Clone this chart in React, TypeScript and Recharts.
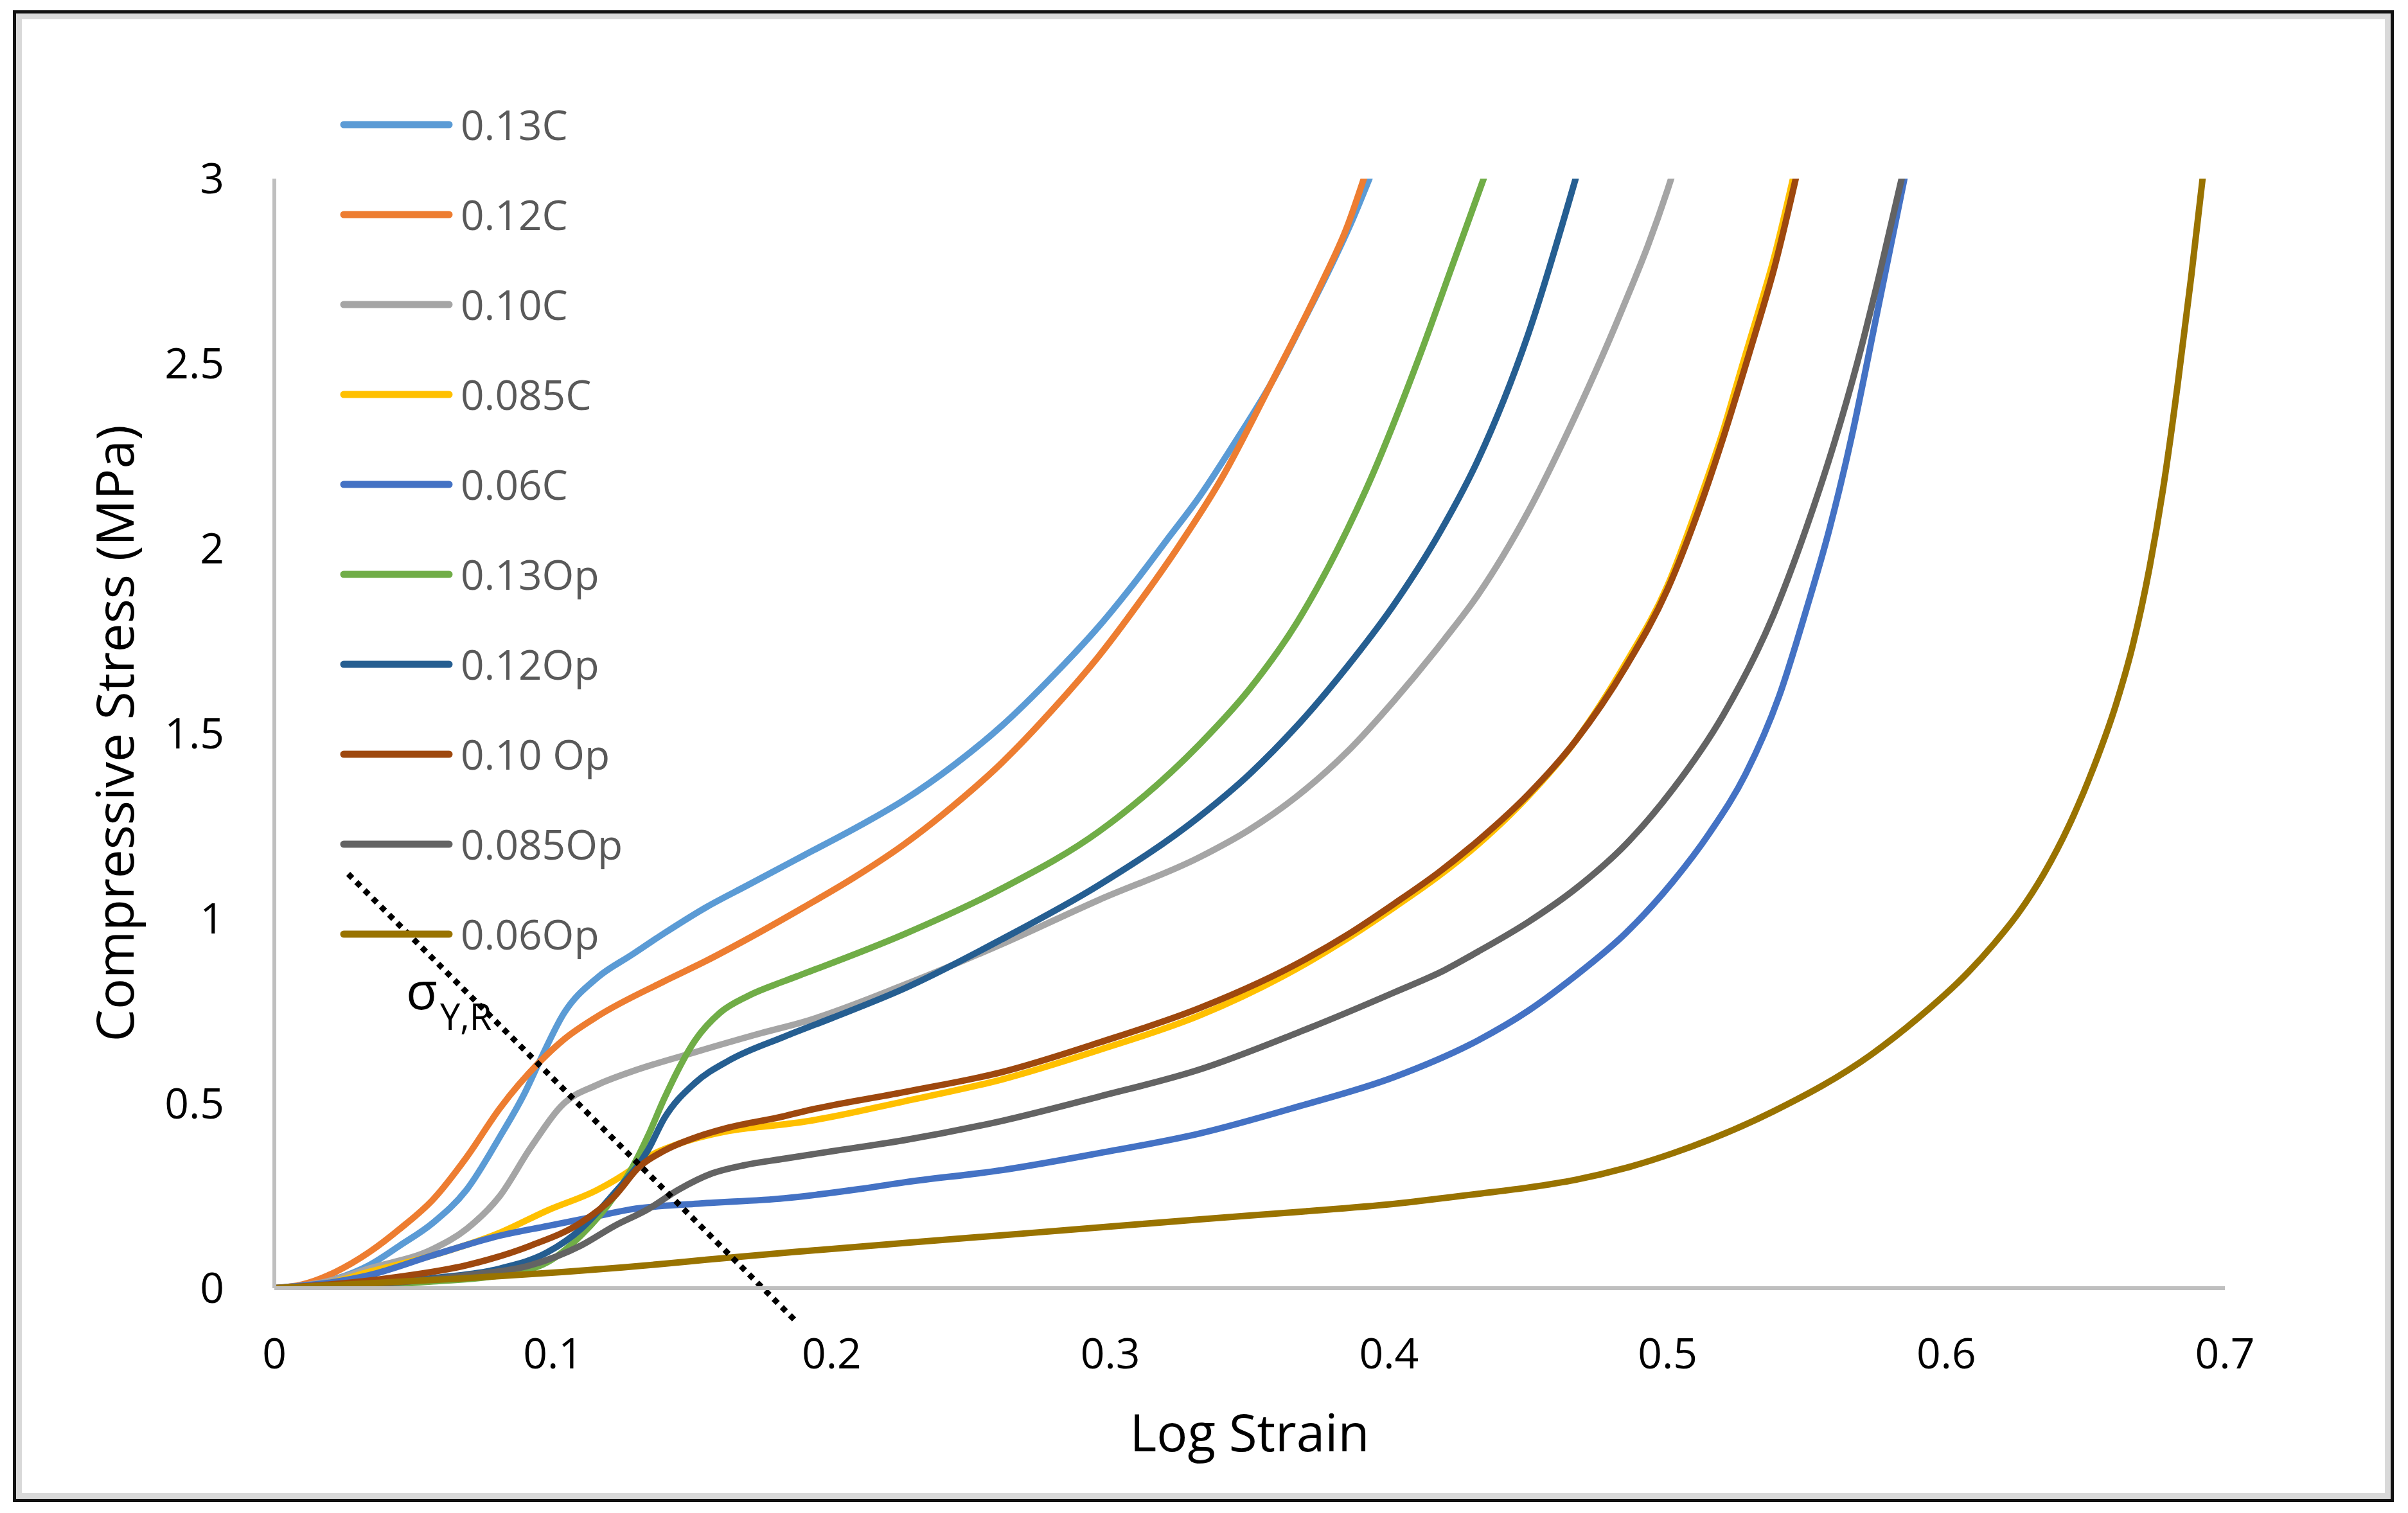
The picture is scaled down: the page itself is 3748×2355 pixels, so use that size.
import React from 'react';
import { LineChart, Line, XAxis, YAxis, ReferenceLine, Legend, Label } from 'recharts';

document.body.style.margin = '0';

const FONT = '"Open Sans", "DejaVu Sans", sans-serif';
const W = 3748;
const H = 2355;

const SERIES_NAMES = ['0.13C', '0.12C', '0.10C', '0.085C', '0.06C', '0.13Op', '0.12Op', '0.10 Op', '0.085Op', '0.06Op'];
const SERIES_COLORS = ['#5B9BD5', '#ED7D31', '#A5A5A5', '#FFC000', '#4472C4', '#70AD47', '#255E91', '#9E480E', '#636363', '#997300'];

// [log strain, stress MPa]
const c013: [number, number][] = [
  [0, 0], [0.01, 0.005], [0.022, 0.025], [0.034, 0.062], [0.045, 0.115], [0.057, 0.177], [0.069, 0.266],
  [0.081, 0.41], [0.09, 0.53], [0.095, 0.61], [0.104, 0.744], [0.116, 0.84], [0.128, 0.9], [0.14, 0.96],
  [0.155, 1.03], [0.17, 1.09], [0.19, 1.17], [0.21, 1.25], [0.226, 1.32], [0.244, 1.415], [0.261, 1.52],
  [0.28, 1.66], [0.296, 1.79], [0.31, 1.92], [0.32, 2.02], [0.332, 2.14], [0.345, 2.29], [0.358, 2.45],
  [0.369, 2.61], [0.379, 2.76], [0.387, 2.89], [0.393, 3.0],
];
const c012: [number, number][] = [
  [0, 0], [0.01, 0.01], [0.022, 0.044], [0.034, 0.097], [0.045, 0.16], [0.057, 0.24], [0.069, 0.354],
  [0.081, 0.487], [0.095, 0.61], [0.104, 0.673], [0.116, 0.735], [0.14, 0.83], [0.155, 0.885], [0.17, 0.945],
  [0.19, 1.03], [0.208, 1.11], [0.226, 1.2], [0.243, 1.3], [0.261, 1.42], [0.28, 1.57], [0.296, 1.71],
  [0.31, 1.85], [0.324, 2.0], [0.34, 2.19], [0.358, 2.45], [0.376, 2.72], [0.385, 2.87], [0.391, 3.0],
];
const c010: [number, number][] = [
  [0, 0], [0.02, 0.02], [0.034, 0.053], [0.057, 0.106], [0.069, 0.16], [0.081, 0.25], [0.092, 0.38],
  [0.104, 0.5], [0.116, 0.55], [0.128, 0.585], [0.151, 0.638], [0.175, 0.69], [0.19, 0.72], [0.226, 0.82],
  [0.261, 0.93], [0.296, 1.05], [0.332, 1.165], [0.35, 1.24], [0.367, 1.33], [0.385, 1.45], [0.402, 1.59],
  [0.42, 1.755], [0.432, 1.875], [0.45, 2.1], [0.467, 2.36], [0.476, 2.51], [0.485, 2.67], [0.493, 2.82],
  [0.5, 2.97], [0.503, 3.04],
];
const c0085: [number, number][] = [
  [0, 0], [0.02, 0.015], [0.034, 0.044], [0.057, 0.089], [0.081, 0.15], [0.098, 0.21], [0.116, 0.266],
  [0.128, 0.32], [0.134, 0.354], [0.145, 0.39], [0.163, 0.425], [0.183, 0.443], [0.19, 0.45], [0.226, 0.505],
  [0.261, 0.564], [0.296, 0.644], [0.332, 0.737], [0.367, 0.864], [0.385, 0.945], [0.402, 1.03], [0.418, 1.115],
  [0.432, 1.2], [0.45, 1.33], [0.467, 1.48], [0.485, 1.69], [0.5, 1.9], [0.511, 2.12], [0.52, 2.32],
  [0.527, 2.5], [0.533, 2.65], [0.538, 2.78], [0.545, 3.0],
];
const c006: [number, number][] = [
  [0, 0], [0.02, 0.015], [0.034, 0.035], [0.057, 0.089], [0.081, 0.142], [0.098, 0.168], [0.116, 0.195],
  [0.128, 0.213], [0.151, 0.228], [0.183, 0.243], [0.21, 0.268], [0.226, 0.286], [0.261, 0.319], [0.296, 0.365],
  [0.332, 0.418], [0.367, 0.49], [0.402, 0.571], [0.432, 0.67], [0.45, 0.75], [0.467, 0.845], [0.485, 0.96],
  [0.502, 1.1], [0.515, 1.23], [0.528, 1.39], [0.54, 1.6], [0.55, 1.84], [0.558, 2.05], [0.566, 2.3],
  [0.575, 2.63], [0.585, 3.0],
];
const o013: [number, number][] = [
  [0, 0], [0.03, 0.005], [0.057, 0.018], [0.081, 0.035], [0.098, 0.07], [0.11, 0.142], [0.122, 0.248],
  [0.128, 0.32], [0.134, 0.41], [0.14, 0.514], [0.151, 0.67], [0.16, 0.745], [0.17, 0.79], [0.183, 0.83],
  [0.19, 0.85], [0.226, 0.957], [0.261, 1.08], [0.296, 1.235], [0.332, 1.47], [0.35, 1.62], [0.367, 1.8],
  [0.385, 2.05], [0.393, 2.18], [0.411, 2.52], [0.423, 2.77], [0.434, 3.0],
];
const o012: [number, number][] = [
  [0, 0], [0.03, 0.008], [0.057, 0.027], [0.081, 0.053], [0.098, 0.097], [0.11, 0.16], [0.122, 0.257],
  [0.134, 0.372], [0.14, 0.46], [0.151, 0.555], [0.163, 0.615], [0.183, 0.68], [0.2, 0.73], [0.226, 0.81],
  [0.261, 0.943], [0.296, 1.09], [0.332, 1.275], [0.35, 1.39], [0.367, 1.52], [0.385, 1.68], [0.402, 1.85],
  [0.418, 2.04], [0.432, 2.24], [0.45, 2.58], [0.467, 3.0],
];
const o010: [number, number][] = [
  [0, 0], [0.02, 0.01], [0.045, 0.031], [0.069, 0.062], [0.092, 0.115], [0.11, 0.177], [0.122, 0.248],
  [0.131, 0.328], [0.14, 0.372], [0.151, 0.407], [0.163, 0.434], [0.183, 0.465], [0.19, 0.478], [0.226, 0.53],
  [0.261, 0.584], [0.296, 0.664], [0.332, 0.757], [0.367, 0.877], [0.385, 0.955], [0.402, 1.04], [0.418, 1.125],
  [0.432, 1.21], [0.45, 1.335], [0.467, 1.48], [0.485, 1.68], [0.5, 1.89], [0.511, 2.1], [0.52, 2.3],
  [0.527, 2.47], [0.533, 2.62], [0.538, 2.75], [0.546, 3.0],
];
const o0085: [number, number][] = [
  [0, 0], [0.03, 0.008], [0.069, 0.035], [0.092, 0.062], [0.11, 0.115], [0.122, 0.168], [0.134, 0.213],
  [0.145, 0.266], [0.157, 0.31], [0.169, 0.333], [0.183, 0.35], [0.2, 0.37], [0.226, 0.4], [0.261, 0.452],
  [0.296, 0.518], [0.332, 0.591], [0.367, 0.69], [0.402, 0.8], [0.42, 0.86], [0.432, 0.91], [0.45, 0.99],
  [0.467, 1.08], [0.485, 1.2], [0.502, 1.35], [0.52, 1.55], [0.538, 1.82], [0.55, 2.06], [0.56, 2.29],
  [0.568, 2.5], [0.576, 2.74], [0.584, 3.0],
];
const o006: [number, number][] = [
  [0, 0], [0.034, 0.013], [0.069, 0.027], [0.104, 0.044], [0.125, 0.056], [0.14, 0.066], [0.155, 0.077],
  [0.19, 0.1], [0.226, 0.122], [0.261, 0.143], [0.296, 0.164], [0.332, 0.186], [0.367, 0.206], [0.402, 0.228],
  [0.432, 0.255], [0.45, 0.272], [0.467, 0.293], [0.485, 0.325], [0.502, 0.365], [0.538, 0.478], [0.573, 0.631],
  [0.59, 0.731], [0.608, 0.855], [0.617, 0.93], [0.626, 1.015], [0.635, 1.12], [0.644, 1.25], [0.653, 1.41],
  [0.661, 1.58], [0.667, 1.74], [0.673, 1.95], [0.678, 2.17], [0.683, 2.44], [0.688, 2.74], [0.692, 3.0],
];

const SERIES_POINTS = [c013, c012, c010, c0085, c006, o013, o012, o010, o0085, o006];

const X_TICKS = [0, 0.1, 0.2, 0.3, 0.4, 0.5, 0.6, 0.7];
const Y_TICKS = [0, 0.5, 1, 1.5, 2, 2.5, 3];

// dotted yield line end points
const YIELD_LINE = [
  { x: 0.0265, y: 1.12 },
  { x: 0.187, y: -0.088 },
];

// legend kept in series order (recharts sorts the payload by name otherwise)
const renderLegend = () => (
  <div>
    {SERIES_NAMES.map((name, i) => (
      <div key={`leg-${i}`} style={{ height: 140, display: 'flex', alignItems: 'center' }}>
        <svg width={180} height={24}>
          <line x1={8} y1={12} x2={172} y2={12} stroke={SERIES_COLORS[i]} strokeWidth={11} strokeLinecap="round" />
        </svg>
        <span style={{ fontFamily: FONT, fontSize: 64, color: '#595959', lineHeight: 1, marginLeft: 10, whiteSpace: 'pre' }}>
          {name}
        </span>
      </div>
    ))}
  </div>
);

const App: React.FC = () => {
  const tickStyle = { fill: '#000', fontSize: 66, fontFamily: FONT };

  return (
    <div style={{ position: 'relative', width: W, height: H, background: '#fff', overflow: 'hidden' }}>
      <div
        style={{
          position: 'absolute', left: 20, top: 16, width: 3706, height: 2322, boxSizing: 'border-box',
          border: '5px solid #111', boxShadow: 'inset 0 0 0 9px #d9d9d9',
        }}
      />
      <div style={{ position: 'absolute', left: 0, top: 0 }}>
        <LineChart width={W} height={H} margin={{ top: 278, right: 285, bottom: 0, left: 0 }}>
          <XAxis
            type="number"
            dataKey="x"
            domain={[0, 0.7]}
            ticks={X_TICKS}
            allowDataOverflow
            tickLine={false}
            tickSize={0}
            tickMargin={78}
            height={350}
            tick={tickStyle}
            axisLine={{ stroke: '#bfbfbf', strokeWidth: 6 }}
          >
            <Label value="Log Strain" position="insideTop" offset={197} style={{ fontSize: 80, fill: '#000', fontFamily: FONT }} />
          </XAxis>
          <YAxis
            type="number"
            domain={[0, 3]}
            ticks={Y_TICKS}
            allowDataOverflow
            tickLine={false}
            tickSize={0}
            tickMargin={78}
            width={427}
            tick={tickStyle}
            axisLine={{ stroke: '#bfbfbf', strokeWidth: 6 }}
          >
            <Label
              value="Compressive Stress (MPa)"
              angle={-90}
              position="insideLeft"
              offset={180}
              style={{ textAnchor: 'middle', fontSize: 80, fill: '#000', fontFamily: FONT }}
            />
          </YAxis>
          <Legend
            layout="vertical"
            align="center"
            verticalAlign="middle"
            wrapperStyle={{ left: 527, top: 124, width: 'auto', height: 'auto' }}
            content={renderLegend}
          />
          {SERIES_POINTS.map((pts, i) => (
            <Line
              key={SERIES_NAMES[i]}
              name={SERIES_NAMES[i]}
              data={pts.map(([x, y]) => ({ x, y }))}
              dataKey="y"
              type="monotone"
              stroke={SERIES_COLORS[i]}
              strokeWidth={10}
              strokeLinecap="round"
              dot={false}
              activeDot={false}
              isAnimationActive={false}
            />
          ))}
          <ReferenceLine
            segment={YIELD_LINE}
            stroke="#000"
            strokeWidth={9}
            strokeDasharray="9 9"
            ifOverflow="visible"
          />
        </LineChart>
      </div>
      <svg width={W} height={H} style={{ position: 'absolute', left: 0, top: 0, pointerEvents: 'none' }}>
        <text x={632} y={1571} fontFamily={FONT} fontSize={80} fill="#000">
          σ
          <tspan dx={4} dy={32} fontSize={56}>Y,R</tspan>
        </text>
      </svg>
    </div>
  );
};

export default App;
